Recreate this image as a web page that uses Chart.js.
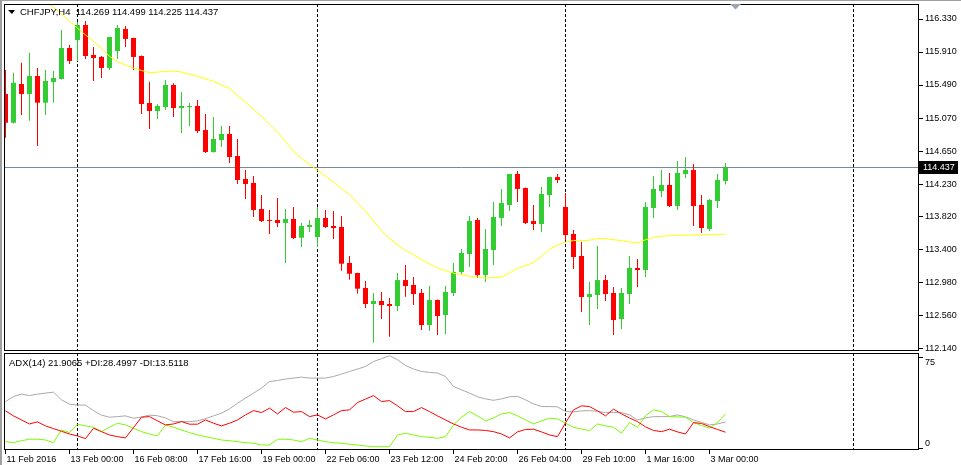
<!DOCTYPE html>
<html lang="en">
<head>
<meta charset="utf-8">
<title>CHFJPY,H4</title>
<script src="https://cdn.jsdelivr.net/npm/chart.js@4.4.1/dist/chart.umd.min.js"></script>
<style>
  html, body { margin: 0; padding: 0; background: #ffffff; }
  #terminal {
    position: relative; width: 961px; height: 465px; overflow: hidden;
    font-family: "Liberation Sans", Arial, sans-serif; font-size: 9.5px; color: #000;
  }
  #terminal canvas { position: absolute; left: 0; }
  #priceCanvas { top: 0; }
  #adxCanvas { top: 352px; }
  .caption { position: absolute; white-space: pre; line-height: 11px; }
  .menu-arrow {
    position: absolute; left: 8px; top: 10px; width: 0; height: 0;
    border-left: 4px solid transparent; border-right: 3px solid transparent; border-top: 4px solid #000;
  }
  .edge-top { position: absolute; left: 0; top: 0; width: 961px; height: 1px; background: #a0a0a0; }
  .edge-left { position: absolute; left: 0; top: 0; width: 2px; height: 465px; background: #a0a0a0; }
</style>
</head>
<body>
<div id="terminal">
  <canvas id="priceCanvas" width="961" height="360"></canvas>
  <canvas id="adxCanvas" width="961" height="113"></canvas>
  <div class="edge-top"></div>
  <div class="edge-left"></div>
  <div class="menu-arrow"></div>
  <div class="caption" id="priceCaption" style="left:20px; top:6px;"></div>
  <div class="caption" id="adxCaption" style="left:9px; top:357px;"></div>
</div>
<script>
// ---- values (CHFJPY, H4, 91 bars) ----
const symbolName = 'CHFJPY,H4';

const candleOpen = [
  115.376, 115.010, 115.503, 115.376, 115.605, 115.265, 115.528, 115.567, 115.961, 116.063,
  116.254, 115.872, 115.847, 115.707, 115.923, 116.203, 116.088, 115.859, 115.261, 115.159,
  115.210, 115.490, 115.197, 115.210, 115.223, 114.917, 114.637, 114.790, 114.867, 114.587,
  114.294, 114.243, 113.912, 113.772, 113.772, 113.734, 113.785, 113.547, 113.683, 113.556,
  113.798, 113.696, 113.683, 113.225, 113.098, 112.907, 112.703, 112.741, 112.703, 112.678,
  113.008, 112.945, 112.843, 112.436, 112.754, 112.563, 112.843, 113.110, 113.339, 113.772,
  113.072, 113.390, 113.798, 113.963, 114.358, 114.179, 113.759, 113.721, 114.090, 114.319,
  113.938, 113.594, 113.314, 112.792, 112.818, 113.008, 112.843, 112.512, 112.830, 113.161,
  113.136, 113.925, 114.141, 114.218, 113.950, 114.358, 114.408, 113.963, 113.658, 114.014,
  114.269
];
const candleHigh = [
  115.681, 115.647, 115.774, 115.901, 115.707, 115.681, 115.668, 116.190, 115.999, 116.292,
  116.305, 115.974, 115.859, 116.101, 116.254, 116.241, 116.093, 115.865, 115.532, 115.245,
  115.554, 115.512, 115.401, 115.261, 115.299, 115.121, 115.083, 114.968, 114.968, 114.803,
  114.408, 114.332, 114.090, 113.899, 114.052, 113.912, 113.938, 113.734, 113.772, 113.938,
  113.899, 113.887, 113.823, 113.314, 113.100, 112.996, 112.843, 112.856, 112.779, 113.098,
  113.199, 113.047, 112.894, 112.932, 112.760, 112.932, 113.225, 113.403, 113.823, 113.798,
  113.658, 114.001, 114.167, 114.358, 114.396, 114.185, 113.963, 114.192, 114.319, 114.358,
  114.116, 113.645, 113.492, 112.983, 113.441, 113.072, 112.919, 112.907, 113.314, 113.276,
  114.001, 114.332, 114.408, 114.370, 114.523, 114.574, 114.485, 114.090, 114.039, 114.358,
  114.499
];
const candleLow = [
  114.819, 115.000, 115.108, 115.036, 114.714, 115.108, 115.265, 115.560, 115.757, 115.796,
  115.821, 115.541, 115.579, 115.681, 115.821, 115.974, 115.681, 115.121, 114.930, 115.057,
  115.172, 115.083, 114.879, 114.968, 114.879, 114.625, 114.630, 114.701, 114.497, 114.230,
  114.039, 113.810, 113.747, 113.594, 113.683, 113.225, 113.530, 113.428, 113.619, 113.428,
  113.670, 113.530, 113.127, 113.012, 112.834, 112.652, 112.210, 112.512, 112.287, 112.614,
  112.796, 112.690, 112.372, 112.359, 112.309, 112.321, 112.805, 113.085, 113.174, 113.034,
  112.983, 113.199, 113.696, 113.887, 114.001, 113.721, 113.645, 113.619, 113.938, 114.243,
  113.518, 113.148, 112.601, 112.436, 112.639, 112.741, 112.309, 112.385, 112.703, 112.919,
  113.047, 113.798, 114.065, 113.938, 113.899, 114.307, 113.696, 113.607, 113.632, 113.925,
  114.225
];
const candleClose = [
  115.010, 115.519, 115.376, 115.605, 115.265, 115.541, 115.579, 115.961, 115.796, 116.254,
  115.859, 115.834, 115.707, 116.101, 116.216, 116.076, 115.847, 115.248, 115.159, 115.223,
  115.490, 115.197, 115.223, 115.223, 114.905, 114.637, 114.803, 114.867, 114.574, 114.281,
  114.230, 113.899, 113.759, 113.760, 113.734, 113.785, 113.543, 113.696, 113.709, 113.798,
  113.683, 113.670, 113.216, 113.088, 112.898, 112.703, 112.741, 112.690, 112.678, 113.008,
  112.932, 112.830, 112.436, 112.754, 112.550, 112.856, 113.110, 113.352, 113.759, 113.072,
  113.403, 113.810, 113.988, 114.358, 114.167, 113.734, 113.721, 114.103, 114.319, 114.281,
  113.581, 113.301, 112.792, 112.830, 113.008, 112.830, 112.499, 112.843, 113.161, 113.136,
  113.938, 114.167, 114.218, 113.950, 114.370, 114.408, 113.950, 113.670, 114.027, 114.281,
  114.437
];

// yellow moving average (starts above the visible window)
const maValues = [
  null, null, null, null, 116.620, 116.546, 116.480, 116.390, 116.301, 116.212,
  116.128, 116.044, 115.957, 115.855, 115.787, 115.746, 115.705, 115.675, 115.648, 115.655,
  115.662, 115.668, 115.655, 115.628, 115.601, 115.569, 115.536, 115.490, 115.445, 115.356,
  115.274, 115.181, 115.090, 114.990, 114.888, 114.770, 114.650, 114.555, 114.478, 114.406,
  114.329, 114.253, 114.174, 114.096, 113.992, 113.884, 113.760, 113.633, 113.540, 113.456,
  113.389, 113.329, 113.270, 113.214, 113.163, 113.128, 113.095, 113.076, 113.057, 113.045,
  113.034, 113.040, 113.046, 113.099, 113.156, 113.194, 113.230, 113.309, 113.398, 113.455,
  113.489, 113.512, 113.507, 113.516, 113.537, 113.535, 113.522, 113.508, 113.493, 113.479,
  113.521, 113.549, 113.567, 113.572, 113.576, 113.579, 113.581, 113.585, 113.587, 113.590,
  113.591
];

// ADX(14) sub window
const adxValues = [
  38.6, 42.7, 44.7, 43.5, 44.7, 45.5, 46.3, 40.0, 36.5, 35.7,
  35.7, 31.2, 27.5, 25.8, 26.3, 26.9, 25.0, 26.0, 27.5, 27.0,
  25.2, 22.2, 22.2, 22.2, 22.8, 24.7, 26.9, 29.1, 32.6, 37.3,
  41.4, 45.5, 49.6, 55.0, 55.8, 57.0, 57.8, 58.6, 57.8, 57.8,
  57.8, 59.1, 61.1, 63.2, 65.2, 67.3, 71.4, 73.6, 76.1, 72.8,
  68.1, 65.2, 63.2, 62.4, 61.9, 59.1, 50.9, 48.2, 45.5, 42.5,
  40.8, 39.6, 40.8, 42.5, 42.9, 40.0, 36.7, 34.5, 34.5, 34.3,
  30.4, 30.2, 31.0, 31.2, 30.6, 29.6, 29.6, 29.6, 27.7, 23.6,
  25.2, 26.3, 26.3, 26.3, 27.7, 26.1, 23.6, 21.6, 19.5, 20.3,
  21.9065
];
const plusDiValues = [
  5.8, 5.0, 6.6, 7.8, 7.8, 7.2, 5.0, 15.4, 13.2, 20.1,
  18.7, 17.6, 14.0, 17.6, 20.9, 19.5, 16.8, 14.0, 12.1, 10.5,
  19.5, 17.6, 15.4, 13.2, 11.3, 9.9, 8.6, 7.2, 6.6, 5.8,
  5.0, 4.5, 3.1, 3.1, 7.8, 7.8, 7.2, 5.8, 8.6, 7.2,
  5.8, 5.0, 4.5, 3.7, 3.1, 2.3, 1.7, 1.7, 1.7, 11.3,
  12.7, 11.3, 9.9, 9.4, 8.6, 9.9, 19.5, 25.8, 30.4, 26.9,
  22.8, 25.2, 28.5, 29.6, 26.9, 23.6, 20.3, 22.8, 25.0, 24.4,
  20.9, 17.6, 16.2, 14.8, 20.3, 18.7, 17.6, 12.7, 21.4, 17.6,
  26.9, 31.8, 30.4, 26.3, 26.1, 25.8, 21.4, 19.1, 16.8, 21.4,
  28.4997
];
const minusDiValues = [
  31.0, 26.9, 23.6, 20.3, 22.0, 18.7, 16.5, 14.3, 12.1, 10.5,
  8.3, 16.8, 14.0, 11.3, 9.9, 8.9, 17.3, 25.8, 26.3, 22.8,
  19.5, 20.3, 22.2, 20.1, 20.1, 23.6, 20.9, 18.7, 20.9, 23.6,
  27.7, 31.2, 29.6, 33.2, 28.5, 33.7, 29.9, 30.4, 26.3, 27.7,
  24.4, 27.7, 31.2, 31.8, 37.8, 40.6, 43.5, 38.6, 39.4, 35.1,
  30.4, 30.4, 33.7, 30.4, 26.9, 23.6, 20.3, 17.6, 15.4, 15.4,
  15.0, 14.0, 12.1, 8.9, 13.8, 15.8, 16.0, 13.8, 11.3, 9.9,
  21.1, 31.8, 35.1, 34.5, 31.0, 26.9, 32.4, 28.5, 25.2, 22.2,
  17.9, 15.0, 14.0, 16.0, 13.8, 12.1, 21.4, 20.7, 18.1, 15.8,
  13.5118
];

// axis ticks
const priceTicks = [116.330, 115.910, 115.490, 115.070, 114.650, 114.230, 113.820, 113.400, 112.980, 112.560, 112.140];
const adxTicks = [0, 75];
const timeTickIndex = [0, 8, 16, 24, 32, 40, 48, 56, 64, 72, 80, 88];
const timeTickLabels = [
  '11 Feb 2016', '13 Feb 00:00', '16 Feb 08:00', '17 Feb 16:00', '19 Feb 00:00', '22 Feb 06:00',
  '23 Feb 12:00', '24 Feb 20:00', '26 Feb 04:00', '29 Feb 10:00', '1 Mar 16:00', '3 Mar 00:00'
];
// bars where a new week starts (dotted period separators)
const separatorIndex = [9, 39, 70, 106];

// ---- view window ----
const xMin = -0.1875;
const xMax = 114.1875;
const priceMin = 112.105;
const priceMax = 116.521;
const adxMin = -1;
const adxMax = 78.3;
const axisWidth = 42;

const bullColor = '#32cd32';
const bearColor = '#ff0000';
const lastIdx = candleClose.length - 1;
const candleColors = candleClose.map((c, i) => (c >= candleOpen[i] ? bullColor : bearColor));

Chart.defaults.font.family = '"Liberation Sans", Arial, sans-serif';
Chart.defaults.font.size = 9;
Chart.defaults.color = '#000';

// captions in the top-left corner of each window
document.getElementById('priceCaption').textContent =
  symbolName + '  ' + [candleOpen, candleHigh, candleLow, candleClose].map(a => a[lastIdx].toFixed(3)).join(' ');
document.getElementById('adxCaption').textContent =
  'ADX(14) ' + adxValues[lastIdx].toFixed(4) + ' +DI:' + plusDiValues[lastIdx].toFixed(4) + ' -DI:' + minusDiValues[lastIdx].toFixed(4);

// frame, week separators, bid line, price tag and shift marker
const terminalDecor = {
  id: 'terminalDecor',
  beforeDatasetsDraw(chart, args, opts) {
    const { ctx, chartArea: a } = chart;
    const x = chart.scales.x;
    ctx.save();
    ctx.beginPath();
    ctx.rect(a.left, a.top, a.width, a.height);
    ctx.clip();
    ctx.lineWidth = 1;
    ctx.strokeStyle = '#000';
    ctx.setLineDash([3, 2]);
    separatorIndex.forEach(i => {
      const px = Math.floor(x.getPixelForValue(i)) + 0.5;
      ctx.beginPath();
      ctx.moveTo(px, a.top);
      ctx.lineTo(px, a.bottom);
      ctx.stroke();
    });
    ctx.setLineDash([]);
    if (opts.bid != null) {
      const py = Math.floor(chart.scales.y.getPixelForValue(opts.bid)) + 0.5;
      ctx.strokeStyle = '#778899';
      ctx.beginPath();
      ctx.moveTo(a.left, py);
      ctx.lineTo(a.right, py);
      ctx.stroke();
    }
    ctx.restore();
  },
  afterDraw(chart, args, opts) {
    const { ctx, chartArea: a } = chart;
    ctx.save();
    ctx.strokeStyle = '#000';
    ctx.lineWidth = 1;
    ctx.strokeRect(a.left + 0.5, a.top + 0.5, a.width - 1, a.height - 1);
    if (opts.bid != null) {
      const py = Math.floor(chart.scales.y.getPixelForValue(opts.bid)) + 0.5;
      ctx.fillStyle = '#000';
      ctx.fillRect(a.right, py - 6.5, 39, 13);
      ctx.fillStyle = '#fff';
      ctx.font = '9px "Liberation Sans", Arial, sans-serif';
      ctx.textBaseline = 'middle';
      ctx.fillText(opts.bid.toFixed(3), a.right + 4, py + 0.5);
      // chart shift marker just right of the last bar
      const sx = Math.floor(chart.scales.x.getPixelForValue(lastIdx)) + 10.5;
      ctx.fillStyle = '#9aa5b1';
      ctx.beginPath();
      ctx.moveTo(sx - 5.5, a.top);
      ctx.lineTo(sx + 5.5, a.top);
      ctx.lineTo(sx, a.top + 5.5);
      ctx.closePath();
      ctx.fill();
    }
    ctx.restore();
  }
};

const fitRightAxis = scale => {
  scale.width = axisWidth;
  scale.paddingTop = 0;
  scale.paddingBottom = 0;
};

const commonOptions = {
  responsive: false,
  animation: false,
  devicePixelRatio: 1,
  events: [],
};

// main window: candles + moving average
new Chart(document.getElementById('priceCanvas'), {
  type: 'bar',
  data: {
    datasets: [
      {
        type: 'line',
        label: 'MA',
        data: maValues.map((v, i) => ({ x: i, y: v })),
        borderColor: '#ffff00',
        borderWidth: 1,
        pointRadius: 0,
        tension: 0,
        order: 0
      },
      {
        label: 'Body',
        data: candleOpen.map((o, i) => ({ x: i, y: [o, candleClose[i]] })),
        backgroundColor: candleColors,
        barThickness: 5,
        minBarLength: 1,
        grouped: false,
        borderWidth: 0,
        inflateAmount: 0,
        order: 1
      },
      {
        label: 'Wick',
        data: candleLow.map((l, i) => ({ x: i, y: [l, candleHigh[i]] })),
        backgroundColor: candleColors,
        barThickness: 1,
        grouped: false,
        borderWidth: 0,
        inflateAmount: 0,
        order: 2
      }
    ]
  },
  options: {
    ...commonOptions,
    layout: { padding: { left: 4, top: 4, right: 0, bottom: 9 } },
    plugins: {
      legend: { display: false },
      tooltip: { enabled: false },
      terminalDecor: { bid: candleClose[lastIdx] }
    },
    scales: {
      x: { type: 'linear', display: false, min: xMin, max: xMax, offset: false, grid: { offset: false } },
      y: {
        position: 'right',
        min: priceMin,
        max: priceMax,
        afterBuildTicks: s => { s.ticks = priceTicks.map(v => ({ value: v })); },
        afterFit: fitRightAxis,
        ticks: { callback: v => Number(v).toFixed(3), padding: 2, autoSkip: false },
        grid: { drawOnChartArea: false, drawTicks: true, tickLength: 4, color: '#000' },
        border: { display: false }
      }
    }
  },
  plugins: [terminalDecor]
});

// ADX sub window
new Chart(document.getElementById('adxCanvas'), {
  type: 'line',
  data: {
    datasets: [
      { label: 'ADX', data: adxValues.map((v, i) => ({ x: i, y: v })), borderColor: '#a9a9a9', order: 3 },
      { label: '+DI', data: plusDiValues.map((v, i) => ({ x: i, y: v })), borderColor: '#7cfc00', order: 2 },
      { label: '-DI', data: minusDiValues.map((v, i) => ({ x: i, y: v })), borderColor: '#ff0000', order: 1 }
    ]
  },
  options: {
    ...commonOptions,
    layout: { padding: { left: 4, top: 1, right: 0, bottom: 0 } },
    elements: { line: { borderWidth: 1, tension: 0 }, point: { radius: 0 } },
    plugins: {
      legend: { display: false },
      tooltip: { enabled: false },
      terminalDecor: {}
    },
    scales: {
      x: {
        type: 'linear',
        min: xMin,
        max: xMax,
        offset: false,
        afterBuildTicks: s => { s.ticks = timeTickIndex.map(v => ({ value: v })); },
        afterFit: s => { s.height = 15; s.paddingLeft = 0; s.paddingRight = 0; },
        ticks: {
          callback: (v, i) => timeTickLabels[i],
          align: 'start',
          labelOffset: 1,
          padding: 0,
          maxRotation: 0,
          autoSkip: false
        },
        grid: { drawOnChartArea: false, drawTicks: true, tickLength: 4, color: '#000', offset: false },
        border: { display: false }
      },
      y: {
        position: 'right',
        min: adxMin,
        max: adxMax,
        afterBuildTicks: s => { s.ticks = adxTicks.map(v => ({ value: v })); },
        afterFit: fitRightAxis,
        // the terminal keeps both labels inside the window: top one below its tick, bottom one above
        ticks: {
          callback: (v, i) => (i === 0 ? [String(v), ''] : ['', String(v)]),
          padding: 2,
          autoSkip: false
        },
        grid: { drawOnChartArea: false, drawTicks: true, tickLength: 4, color: '#000' },
        border: { display: false }
      }
    }
  },
  plugins: [terminalDecor]
});
</script>
</body>
</html>
